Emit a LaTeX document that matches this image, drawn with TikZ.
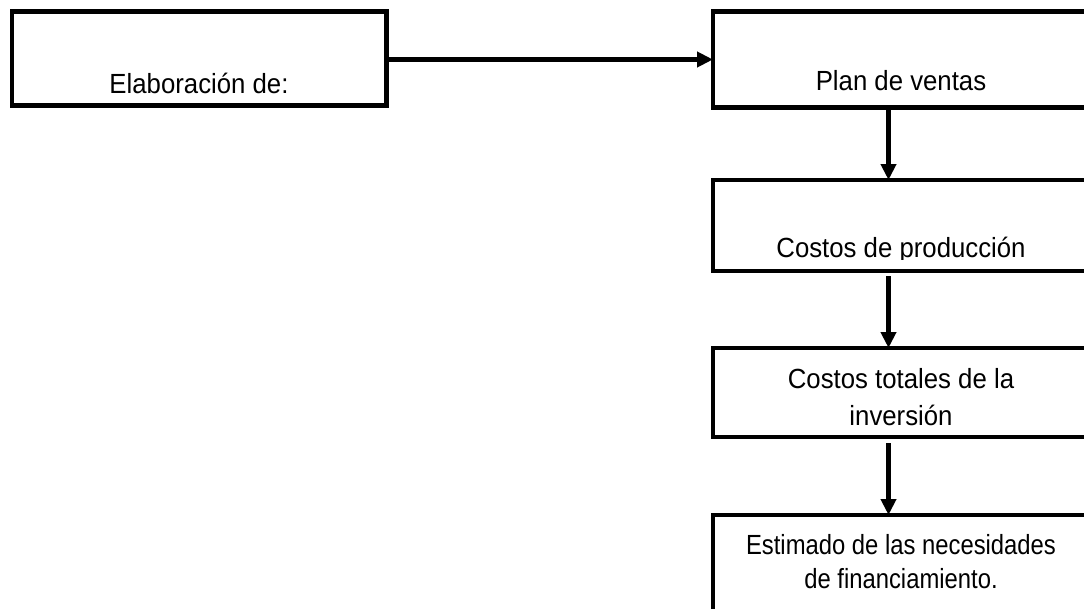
\documentclass[tikz,border=0pt]{standalone}
\usepackage{fontspec}
\setmainfont{Liberation Sans}
\newfontfamily\fonta[FakeStretch=0.93]{Liberation Sans}
\newfontfamily\fontb[FakeStretch=0.86]{Liberation Sans}
\usetikzlibrary{arrows.meta}
\begin{document}
\begin{tikzpicture}[x=1pt,y=-1pt,
  boxnode/.style={draw=black,line width=4.5pt,inner sep=0pt,outer sep=0pt,fill=white},
  txt/.style={anchor=base,inner sep=0pt,font=\fonta\fontsize{27.7}{30}\selectfont},
  txtsm/.style={anchor=base,inner sep=0pt,font=\fontb\fontsize{27.7}{30}\selectfont},
  arr/.style={line width=4.5pt,-{Triangle[length=16pt,width=15pt]}}]
\clip (0,0) rectangle (1084,608);
\fill[white] (0,0) rectangle (1084,608);
% boxes
\node[boxnode,minimum width=374.5pt,minimum height=93.8pt] (elab) at (199.25,58.4) {};
\node[boxnode,minimum width=376pt,minimum height=96pt] (plan) at (901,59.5) {};
\node[boxnode,minimum width=376pt,minimum height=91pt] (prod) at (901,225.5) {};
\node[boxnode,minimum width=376pt,minimum height=89pt] (tot) at (901,392.5) {};
\node[boxnode,minimum width=376pt,minimum height=200pt] (est) at (901,615) {};
% texts
\node[txt] (t1) at (199,93) {Elaboración de:};
\node[txt] (t2) at (901,90.5) {Plan de ventas};
\begin{scope}
\clip (715,180) rectangle (1084,259.5);
\node[txt] (t3) at (901,257) {Costos de producción};
\end{scope}
\node[txt] (t4a) at (901,388) {Costos totales de la};
\begin{scope}
\clip (715,390) rectangle (1084,427.5);
\node[txt] (t4b) at (901,425) {inversión};
\end{scope}
\node[txtsm] (t5a) at (901,554.5) {Estimado de las necesidades};
\node[txtsm] (t5b) at (901,588) {de financiamiento.};
% connectors
\draw[arr] (elab.east |- 0,59.5) -- (plan.west |- 0,59.5);
\draw[arr] ([xshift=-12.5pt]plan.south) -- ([xshift=-12.5pt]prod.north);
\draw[arr] ([xshift=-12.5pt,yshift=-5pt]prod.south) -- ([xshift=-12.5pt]tot.north);
\draw[arr] ([xshift=-12.5pt,yshift=-6pt]tot.south) -- ([xshift=-12.5pt]est.north);
\end{tikzpicture}
\end{document}
